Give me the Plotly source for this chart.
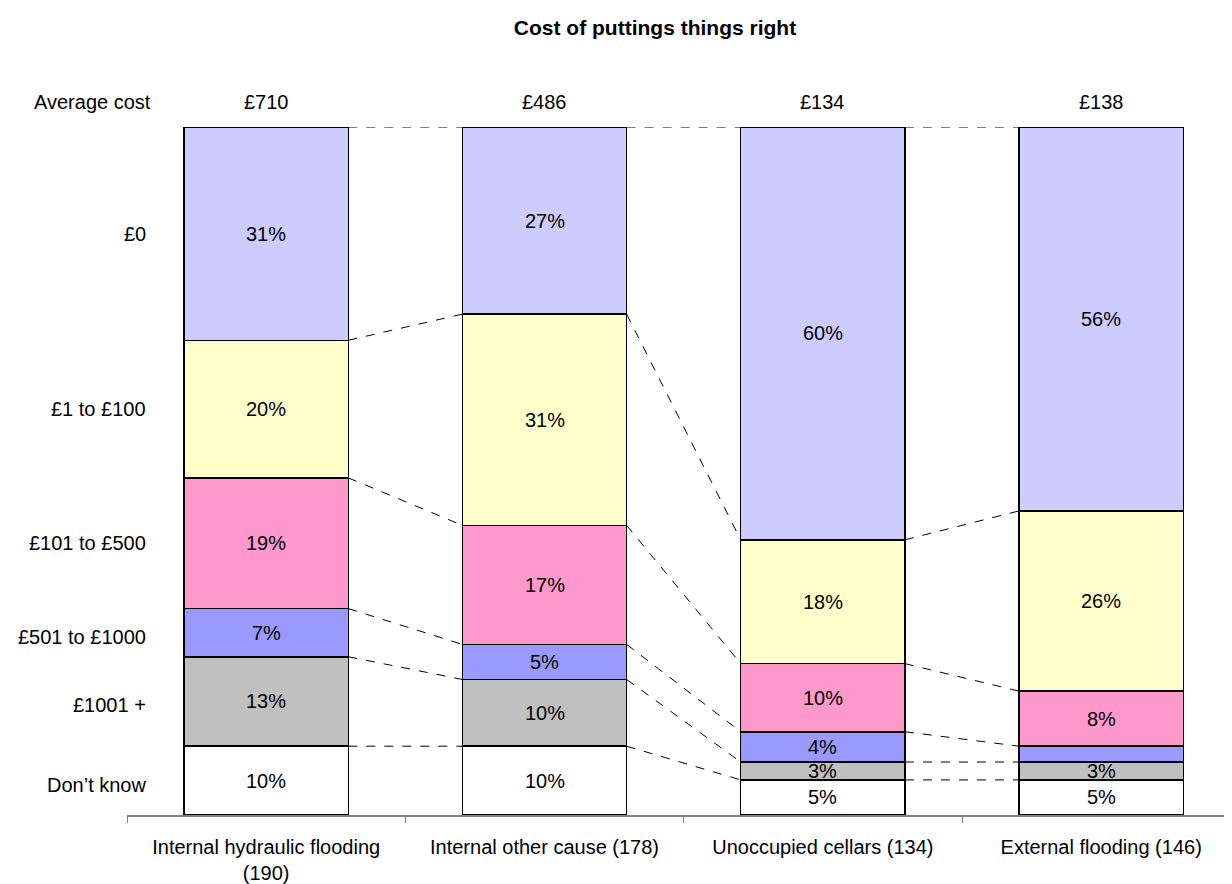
import plotly.graph_objects as go

categories = ["Internal hydraulic flooding<br>(190)", "Internal other cause (178)",
              "Unoccupied cellars (134)", "External flooding (146)"]
average_cost = ["£710", "£486", "£134", "£138"]
# bottom to top
bands = ["Don\u2019t know", "£1001 +", "£501 to £1000", "£101 to £500", "£1 to £100", "£0"]
colors = ["#FFFFFF", "#C0C0C0", "#9999FF", "#FF99CC", "#FFFFCC", "#CCCCFF"]

dont_know = [10, 10, 5.1, 5.1]
over_1000 = [13, 9.7, 2.6, 2.6]
from_501 = [7, 5.1, 4.4, 2.3]
from_101 = [19, 17.3, 9.9, 8]
from_1 = [20, 30.7, 18, 26.2]
zero = [31, 27.2, 60, 55.8]
series = [dont_know, over_1000, from_501, from_101, from_1, zero]
# labels shown in the chart (None = no label)
labels = [
    ["10%", "10%", "5%", "5%"],
    ["13%", "10%", "3%", "3%"],
    ["7%", "5%", "4%", None],
    ["19%", "17%", "10%", "8%"],
    ["20%", "31%", "18%", "26%"],
    ["31%", "27%", "60%", "56%"],
]

FONT = "Liberation Sans, Arial, sans-serif"
BAR_W = 0.59

fig = go.Figure()
for name, vals, col in zip(bands, series, colors):
    fig.add_trace(go.Bar(x=categories, y=vals, name=name, width=BAR_W,
                         marker=dict(color=col, line=dict(color="black", width=1.5)),
                         hoverinfo="skip"))

annotations = []
shapes = []
n = len(categories)
cum = [[0.0] * n]
for vals in series:
    cum.append([c + v for c, v in zip(cum[-1], vals)])

# in-bar labels
for k, vals in enumerate(series):
    for i in range(n):
        if labels[k][i]:
            annotations.append(dict(x=i, y=(cum[k][i] + cum[k + 1][i]) / 2, xref="x", yref="y",
                                    text=labels[k][i], showarrow=False, yanchor="middle"))

# connector dashed lines
for k in range(1, len(cum)):
    for i in range(n - 1):
        shapes.append(dict(type="line", xref="x", yref="y",
                           x0=i + BAR_W / 2, x1=i + 1 - BAR_W / 2,
                           y0=cum[k][i], y1=cum[k][i + 1],
                           line=dict(color="black", width=1, dash="dash"), layer="below"))

# left band labels at centers of first bar segments
for k, b in enumerate(bands):
    annotations.append(dict(x=148, xref="paper", y=(cum[k][0] + cum[k + 1][0]) / 2, yref="y",
                            text=b, showarrow=False, xanchor="right", yanchor="middle",
                            yshift=-4 if k < 3 else 0))

# average cost row
annotations.append(dict(x=153, y=102, xref="paper", yref="paper", text="Average cost",
                        showarrow=False, xanchor="right", yanchor="middle"))
for i, c in enumerate(average_cost):
    annotations.append(dict(x=i, y=102, xref="x", yref="paper", text=c, showarrow=False,
                            yanchor="middle"))

# page is offset by the 8px body margin
OFF = 8
PW, PH = 1232, 884
W, H = PW - OFF, PH - OFF
L, R, T = 127 - OFF, 0, 127 - OFF
B = H - (815 - OFF)
pw, ph = W - L - R, H - T - B
for a in annotations:
    if a.get("xref") == "paper":
        a["x"] = (a["x"] - OFF - L) / pw
    if a.get("yref") == "paper":
        a["y"] = (H - B - (a["y"] - OFF)) / ph
    a.setdefault("font", dict(size=20, color="black", family=FONT))

fig.update_layout(
    width=W, height=H,
    margin=dict(l=L, r=R, t=T, b=B),
    barmode="stack", showlegend=False,
    plot_bgcolor="white", paper_bgcolor="white",
    font=dict(family=FONT, size=20, color="black"),
    title=dict(text="<b>Cost of puttings things right</b>", x=(655 - OFF) / W, xref="container",
               xanchor="center", y=1 - (28 - OFF) / H, yref="container", yanchor="middle",
               font=dict(size=21, family=FONT, color="black")),
    xaxis=dict(type="category", range=[-0.5, 3.47], showline=True, linecolor="#808080",
               linewidth=2, ticks="outside", tickson="boundaries", ticklen=6,
               tickcolor="#808080", tickwidth=1, showgrid=False, zeroline=False,
               tickfont=dict(size=20, family=FONT, color="black"), ticklabelstandoff=13),
    yaxis=dict(range=[0, 100], visible=False, showgrid=False, zeroline=False),
    annotations=annotations, shapes=shapes,
)

fig.write_html("out.html")
